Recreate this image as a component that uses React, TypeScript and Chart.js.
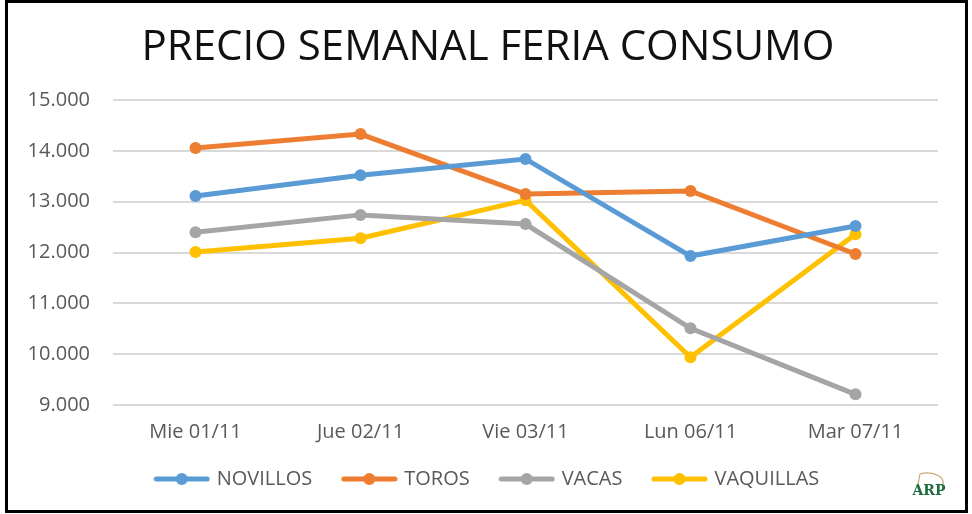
import React, { useEffect, useRef } from "react";
import { Chart, registerables } from "chart.js";

Chart.register(...registerables);

const categories = ["Mie 01/11", "Jue 02/11", "Vie 03/11", "Lun 06/11", "Mar 07/11"];
const novillos = [13110, 13520, 13840, 11930, 12520];
const toros = [14055, 14330, 13150, 13210, 11970];
const vacas = [12400, 12740, 12560, 10510, 9210];
const vaquillas = [12010, 12280, 13030, 9940, 12360];
const seriesNames = ["NOVILLOS", "TOROS", "VACAS", "VAQUILLAS"];
const seriesColors = ["#5B9BD5", "#ED7D31", "#A5A5A5", "#FFC000"];
const yMin = 9000;
const yMax = 15000;
const yStep = 1000;
const titleText = "PRECIO SEMANAL FERIA CONSUMO";
const logoText = "ARP";

const FONT = "'Open Sans', 'DejaVu Sans', sans-serif";

function fmt(v: number): string {
  return String(Math.round(v)).replace(/\B(?=(\d{3})+(?!\d))/g, ".");
}

function makeIcon(color: string): HTMLCanvasElement {
  const c = document.createElement("canvas");
  c.width = 57;
  c.height = 14;
  const ctx = c.getContext("2d")!;
  ctx.strokeStyle = color;
  ctx.lineWidth = 5;
  ctx.lineCap = "round";
  ctx.beginPath();
  ctx.moveTo(3, 7);
  ctx.lineTo(54, 7);
  ctx.stroke();
  ctx.fillStyle = color;
  ctx.beginPath();
  ctx.arc(28.5, 7, 6, 0, Math.PI * 2);
  ctx.fill();
  return c;
}

const logoPlugin = {
  id: "logoPlugin",
  afterDraw(chart: any) {
    const ctx = chart.ctx;
    ctx.save();
    ctx.strokeStyle = "#C8A878";
    ctx.lineWidth = 1.2;
    ctx.beginPath();
    ctx.moveTo(910, 481);
    ctx.lineTo(912, 471);
    ctx.quadraticCurveTo(922, 468, 931, 473);
    ctx.quadraticCurveTo(936, 476, 935, 481);
    ctx.stroke();
    ctx.fillStyle = "#1E6B3C";
    ctx.font = "bold 14px 'DejaVu Serif', serif";
    ctx.textAlign = "center";
    ctx.textBaseline = "middle";
    ctx.fillText(logoText, 921, 488);
    ctx.restore();
  },
};

export default function App() {
  const ref = useRef<HTMLCanvasElement>(null);

  useEffect(() => {
    if (!ref.current) return;
    const icons = seriesColors.map(makeIcon);
    const seriesData = [novillos, toros, vacas, vaquillas];
    const chart = new Chart(ref.current, {
      type: "line",
      data: {
        labels: categories,
        datasets: seriesNames.map((name, i) => ({
          label: name,
          data: seriesData[i],
          borderColor: seriesColors[i],
          backgroundColor: seriesColors[i],
          borderWidth: 5,
          pointRadius: 6,
          pointHoverRadius: 6,
          pointBorderWidth: 0,
          pointBackgroundColor: seriesColors[i],
          tension: 0,
          fill: false,
        })),
      },
      options: {
        animation: false,
        responsive: true,
        maintainAspectRatio: false,
        layout: { padding: { left: 30, right: 27, top: 0, bottom: 11 } },
        plugins: {
          title: {
            display: true,
            text: titleText,
            color: "#111111",
            font: { family: FONT, size: 42, weight: "normal" },
            padding: { top: 20, bottom: 26.6 },
          },
          legend: {
            display: true,
            position: "bottom",
            labels: {
              usePointStyle: true,
              pointStyleWidth: 50,
              boxHeight: 14,
              padding: 32,
              color: "#595959",
              font: { family: FONT, size: 20 },
              generateLabels: (c: any) =>
                c.data.datasets.map((ds: any, i: number) => ({
                  text: ds.label,
                  fillStyle: ds.borderColor,
                  strokeStyle: ds.borderColor,
                  lineWidth: 0,
                  pointStyle: icons[i],
                  hidden: false,
                  datasetIndex: i,
                  fontColor: "#595959",
                })),
            },
          },
          tooltip: { enabled: false },
        },
        scales: {
          x: {
            offset: true,
            grid: { display: false, drawTicks: false },
            border: { display: false },
            ticks: {
              color: "#595959",
              font: { family: FONT, size: 20 },
              padding: 15,
              maxRotation: 0,
            },
            afterFit: (s: any) => {
              s.height = 32;
              s._computeLabelArea = () => undefined;
            },
          },
          y: {
            min: yMin,
            max: yMax,
            grid: { color: "#D9D9D9", lineWidth: 2, drawTicks: false },
            border: { display: false },
            ticks: {
              stepSize: yStep,
              color: "#595959",
              font: { family: FONT, size: 20 },
              padding: 23,
              callback: (v: any) => fmt(Number(v)),
            },
            afterFit: (s: any) => {
              s.width = 75;
              s._computeLabelArea = () => undefined;
            },
          },
        },
      },
      plugins: [logoPlugin],
    });
    return () => chart.destroy();
  }, []);

  return (
    <div
      style={{
        position: "absolute",
        left: 5,
        top: 0,
        width: 963,
        height: 513,
        border: "3px solid #000",
        boxSizing: "border-box",
        background: "#fff",
      }}
    >
      <div style={{ position: "relative", width: 957, height: 507 }}>
        <canvas ref={ref} />
      </div>
    </div>
  );
}
